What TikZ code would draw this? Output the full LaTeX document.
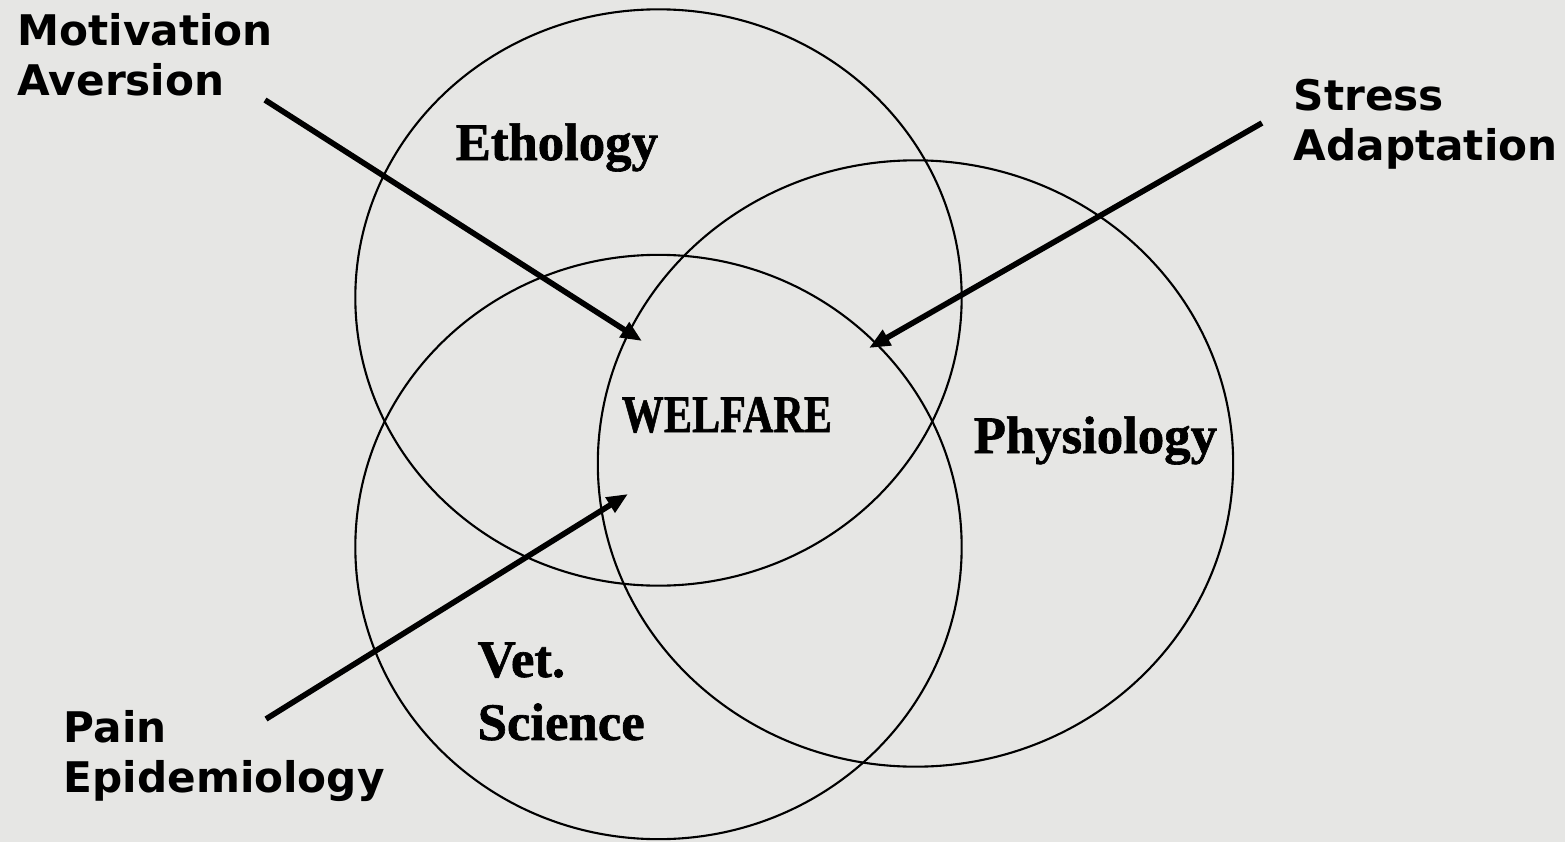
\documentclass[tikz,border=0pt]{standalone}
\usepackage{fontspec}
\usepackage{graphicx}
\usetikzlibrary{arrows.meta,shapes.geometric}
\newfontfamily\labelsans{DejaVu Sans Bold}
\newfontfamily\discserif[FakeBold=1.2]{Liberation Serif Bold}
\definecolor{bgc}{RGB}{230,230,228}
\tikzset{
  outerlabel/.style={font=\labelsans\fontsize{12}{14.4}\selectfont, anchor=base west, inner sep=0pt},
  disclabel/.style={font=\discserif\fontsize{15}{17.9}\selectfont, anchor=base west, inner sep=0pt},
  ring/.style={ellipse, draw=black, line width=0.6pt, inner sep=0pt, outer sep=0pt},
  feed/.style={line width=1.6pt, -{Triangle[length=6pt,width=4.8pt]}}
}
\begin{document}
\begin{tikzpicture}[x=0.01cm,y=-0.01cm]
  \fill[bgc] (0,0) rectangle (1565,842);
  \useasboundingbox (0,0) rectangle (1565,842);

  % circles
  \node[ring, minimum width=6.06cm, minimum height=5.76cm] (eth) at (658.5,297.5) {};
  \node[ring, minimum width=6.06cm, minimum height=5.84cm] (vet) at (658.5,547) {};
  \node[ring, minimum width=6.35cm, minimum height=6.06cm] (phy) at (915.5,463.5) {};

  % circle labels
  \node[disclabel] (ethl) at (455,160) {Ethology};
  \node[disclabel] (wel) at (621,432) {\scalebox{0.8}[1]{WELFARE}};
  \node[disclabel] (phyl) at (973,453) {Physiology};
  \node[disclabel] (vetl) at (477,677) {\begin{tabular}[t]{@{}l@{}}Vet.\\Science\end{tabular}};

  % outer labels
  \node[outerlabel] (mot) at (17,45) {\begin{tabular}[t]{@{}l@{}}Motivation\\Aversion\end{tabular}};
  \node[outerlabel] (str) at (1293,110) {\begin{tabular}[t]{@{}l@{}}Stress\\Adaptation\end{tabular}};
  \node[outerlabel] (pain) at (63,742) {\begin{tabular}[t]{@{}l@{}}Pain\\Epidemiology\end{tabular}};

  % arrows
  \coordinate (motStart) at (265,100);
  \coordinate (motTip) at (642,341);
  \coordinate (strStart) at (1262,123);
  \coordinate (strTip) at (869,348);
  \coordinate (painStart) at (266,719);
  \coordinate (painTip) at (628,494);
  \draw[feed] (motStart) -- (motTip);
  \draw[feed] (strStart) -- (strTip);
  \draw[feed] (painStart) -- (painTip);
\end{tikzpicture}
\end{document}
